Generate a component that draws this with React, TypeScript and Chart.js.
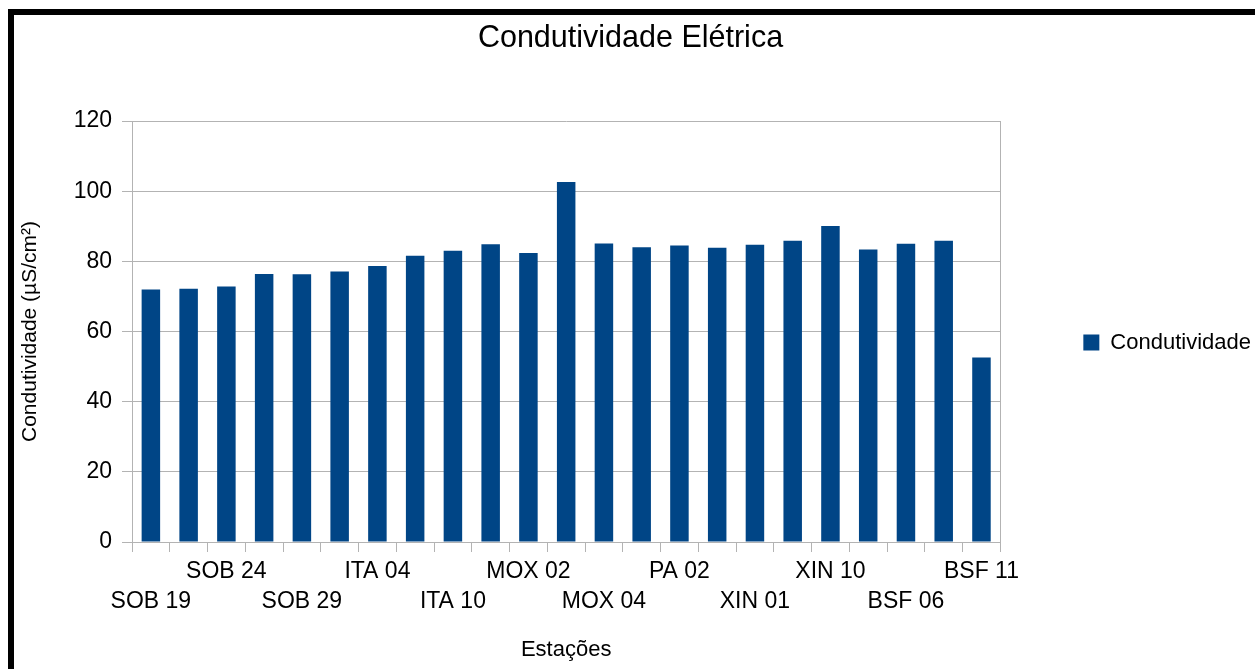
import React, { useEffect, useRef } from "react";
import { Chart, registerables } from "chart.js";

Chart.register(...registerables);

const FONT = "'Liberation Sans', Arial, sans-serif";

// Stations (only every other label is legible in the reference; unread ones left blank)
const categories = [
  "SOB 19", "", "SOB 24", "", "SOB 29", "", "ITA 04", "", "ITA 10", "",
  "MOX 02", "", "MOX 04", "", "PA 02", "", "XIN 01", "", "XIN 10", "",
  "BSF 06", "", "BSF 11",
];

// Condutividade (µS/cm²)
const condutividade = [
  72.0, 72.2, 72.8, 76.4, 76.3, 77.1, 78.7, 81.6, 83.0, 84.9,
  82.4, 102.6, 85.1, 84.0, 84.5, 83.9, 84.7, 85.9, 90.1, 83.4,
  85.0, 85.9, 52.6,
];

const yTicks = [0, 20, 40, 60, 80, 100, 120];

const seriesLabel = "Condutividade";
const chartTitle = "Condutividade Elétrica";
const xTitle = "Estações";
const yTitle = "Condutividade (µS/cm²)";

const GRID = "#b3b3b3";
const BAR = "#004586";

export default function App() {
  const canvasRef = useRef<HTMLCanvasElement | null>(null);

  useEffect(() => {
    if (!canvasRef.current) return;
    Chart.defaults.font.family = FONT;
    const chart = new Chart(canvasRef.current, {
      type: "bar",
      data: {
        labels: categories,
        datasets: [
          {
            label: seriesLabel,
            data: condutividade,
            backgroundColor: BAR,
            borderWidth: 0,
            barPercentage: 0.49,
            categoryPercentage: 1,
          },
        ],
      },
      options: {
        responsive: false,
        animation: false,
        layout: { padding: { top: 22, bottom: 6, left: 0, right: 0 } },
        plugins: {
          title: {
            display: true,
            text: chartTitle,
            color: "#000",
            font: { size: 30.5, weight: "normal", lineHeight: 1, family: FONT },
            padding: { top: 1, bottom: 67.5 },
          },
          legend: {
            position: "right",
            labels: {
              boxWidth: 16,
              boxHeight: 16,
              padding: 83,
              color: "#000",
              font: { size: 22, family: FONT },
            },
          },
          tooltip: { enabled: false },
        },
        scales: {
          x: {
            grid: {
              offset: true,
              drawOnChartArea: true,
              drawTicks: true,
              tickLength: 10,
              tickColor: GRID,
              color: (c: any) => (c.index === undefined ? GRID : "rgba(0,0,0,0)"),
            },
            border: { color: GRID },
            ticks: {
              autoSkip: false,
              maxRotation: 0,
              minRotation: 0,
              padding: 5,
              color: "#000",
              font: { size: 23, lineHeight: 1.3, family: FONT },
              callback: function (this: any, value: any, index: number) {
                const l = this.getLabelForValue(value);
                if (!l) return "";
                return index % 4 === 0 ? ["", l] : [l];
              },
            },
            title: {
              display: true,
              text: xTitle,
              color: "#000",
              font: { size: 22, family: FONT },
              padding: { top: 0, bottom: 0 },
            },
            afterFit: (s: any) => {
              s.height = 121;
            },
          },
          y: {
            min: yTicks[0],
            max: yTicks[yTicks.length - 1],
            ticks: {
              stepSize: yTicks[1] - yTicks[0],
              padding: 10,
              color: "#000",
              font: { size: 23, family: FONT },
            },
            grid: { color: GRID, tickLength: 10 },
            border: { color: GRID },
            title: {
              display: true,
              text: yTitle,
              color: "#000",
              font: { size: 21, family: FONT },
              padding: { top: 18, bottom: 0 },
            },
            afterFit: (s: any) => {
              s.width = 132;
            },
          },
        },
      },
    });
    return () => chart.destroy();
  }, []);

  return (
    <div
      style={{
        position: "fixed",
        left: 0,
        top: 0,
        width: 1255,
        height: 669,
        overflow: "hidden",
        background: "#fff",
      }}
    >
      <canvas ref={canvasRef} width={1261} height={669} style={{ display: "block" }} />
      <div style={{ position: "absolute", left: 8, top: 9, width: 1247, height: 6, background: "#000" }} />
      <div style={{ position: "absolute", left: 8, top: 9, width: 6, height: 660, background: "#000" }} />
    </div>
  );
}
